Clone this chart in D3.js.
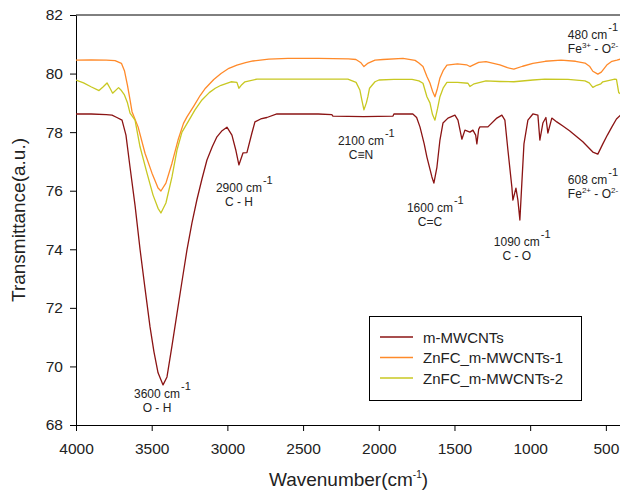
<!DOCTYPE html>
<html>
<head>
<meta charset="utf-8">
<script src="https://cdn.jsdelivr.net/npm/d3@7.9.0/dist/d3.min.js"></script>
<style>
  body { margin: 0; background: #fff; }
  svg { display: block; font-family: Arial, 'Liberation Sans', sans-serif; }
</style>
</head>
<body>
<svg id="chart"></svg>
<script>
// [wavenumber, transmittance]
const mMWCNTs = [
  [4000,78.62],[3900,78.62],[3800,78.6],[3762,78.58],[3730,78.5],[3696,78.41],[3670,77.9],[3643,76.8],
  [3610,75.5],[3577,74.0],[3545,72.7],[3511,71.35],[3485,70.5],[3458,69.78],[3425,69.37],[3399,69.64],
  [3366,70.7],[3333,71.8],[3300,72.9],[3267,73.98],[3234,74.9],[3201,75.7],[3168,76.4],[3135,77.05],
  [3100,77.5],[3069,77.84],[3035,78.05],[3003,78.17],[2970,77.9],[2945,77.4],[2924,76.88],[2897,77.29],
  [2871,77.3],[2838,77.97],[2818,78.35],[2780,78.45],[2739,78.5],[2673,78.62],[2400,78.62],[2310,78.6],
  [2303,78.55],[2100,78.53],[1906,78.55],[1900,78.62],[1775,78.62],[1750,78.5],[1728,78.18],[1700,77.6],
  [1682,77.15],[1649,76.47],[1636,76.26],[1616,76.8],[1596,77.73],[1576,78.31],[1543,78.48],[1497,78.58],
  [1477,78.41],[1451,77.76],[1431,78.07],[1398,78.0],[1378,78.07],[1360,77.9],[1352,77.6],[1340,78.1],
  [1332,78.18],[1279,78.18],[1220,78.48],[1187,78.58],[1167,78.41],[1147,77.39],[1121,76.13],[1114,75.68],
  [1094,76.09],[1081,75.68],[1068,75.0],[1055,76.26],[1041,77.6],[1015,78.41],[982,78.62],[949,78.58],
  [936,77.73],[916,78.31],[896,78.5],[883,77.97],[857,78.48],[824,78.35],[784,78.21],[740,78.05],
  [692,77.84],[652,77.67],[620,77.5],[586,77.32],[553,77.25],[520,77.6],[490,77.9],[460,78.18],
  [430,78.45],[400,78.6]
];

const znfc1 = [
  [4000,80.46],[3900,80.47],[3800,80.46],[3742,80.44],[3700,80.35],[3680,80.1],[3660,79.6],[3643,79.1],
  [3630,78.7],[3590,78.18],[3544,77.28],[3498,76.6],[3458,76.09],[3439,75.99],[3406,76.26],[3366,76.94],
  [3326,77.73],[3290,78.3],[3267,78.52],[3221,78.9],[3180,79.25],[3145,79.5],[3090,79.8],[3042,80.0],
  [2990,80.18],[2937,80.29],[2880,80.37],[2831,80.43],[2726,80.49],[2600,80.52],[2400,80.52],[2200,80.5],
  [2151,80.48],[2120,80.38],[2098,80.24],[2070,80.36],[2025,80.46],[1972,80.48],[1840,80.52],[1760,80.45],
  [1735,80.36],[1708,80.24],[1682,79.9],[1662,79.68],[1645,79.4],[1629,79.21],[1612,79.5],[1596,79.85],
  [1575,80.1],[1550,80.29],[1480,80.33],[1420,80.3],[1398,80.24],[1385,80.27],[1340,80.38],[1292,80.41],
  [1200,80.3],[1150,80.2],[1108,80.15],[1050,80.25],[982,80.35],[900,80.42],[796,80.46],[700,80.42],
  [638,80.36],[606,80.24],[586,80.08],[553,79.98],[530,80.05],[494,80.29],[460,80.42],[427,80.46],
  [400,80.5]
];

const znfc2 = [
  [4000,79.78],[3950,79.68],[3901,79.55],[3848,79.42],[3820,79.55],[3795,79.68],[3775,79.5],[3758,79.33],
  [3719,79.52],[3700,79.42],[3680,79.27],[3660,79.0],[3643,78.65],[3610,78.41],[3577,77.5],[3531,76.6],
  [3491,75.85],[3458,75.4],[3439,75.24],[3406,75.58],[3366,76.47],[3333,77.39],[3300,78.0],[3260,78.35],
  [3214,78.76],[3168,79.1],[3120,79.35],[3080,79.5],[3042,79.6],[2976,79.72],[2937,79.7],[2924,79.5],
  [2905,79.62],[2884,79.72],[2805,79.81],[2500,79.81],[2362,79.81],[2204,79.81],[2150,79.7],[2125,79.44],
  [2112,79.1],[2098,78.76],[2082,79.0],[2072,79.21],[2061,79.5],[2025,79.72],[1999,79.78],[1900,79.8],
  [1780,79.8],[1735,79.75],[1708,79.67],[1682,79.21],[1662,79.0],[1645,78.6],[1629,78.41],[1612,78.8],
  [1596,79.21],[1575,79.5],[1550,79.7],[1480,79.7],[1411,79.67],[1398,79.56],[1370,79.65],[1292,79.75],
  [1200,79.73],[1108,79.72],[982,79.78],[903,79.81],[750,79.8],[638,79.75],[610,79.68],[586,79.53],
  [560,79.6],[533,79.65],[520,79.72],[441,79.81],[430,79.8],[415,79.35],[400,79.3]
];

const seriesNames = ['m-MWCNTs', 'ZnFC_m-MWCNTs-1', 'ZnFC_m-MWCNTs-2'];
const seriesColors = ['#8b1414', '#ff8a2a', '#c8c822'];
const xTicks = [4000, 3500, 3000, 2500, 2000, 1500, 1000, 500];
const yTicks = [68, 70, 72, 74, 76, 78, 80, 82];

// peak labels, anchored in data space (wavenumber, transmittance)
const peakLabels = [
  { w: 3465, v: 68.92, base: '3600 cm', line2: [{ t: 'O - H' }], align: 'middle' },
  { w: 2924, v: 75.96, base: '2900 cm', line2: [{ t: 'C - H' }], align: 'middle' },
  { w: 2118, v: 77.56, base: '2100 cm', line2: [{ t: 'C\u2261N' }], align: 'middle' },
  { w: 1662, v: 75.27, base: '1600 cm', line2: [{ t: 'C=C' }], align: 'middle' },
  { w: 1088, v: 74.11, base: '1090 cm', line2: [{ t: 'C - O' }], align: 'middle' },
  { w: 751, v: 76.23, base: '608 cm', line2: [{ t: 'Fe' }, { t: '2+', sup: true }, { t: ' - O' }, { t: '2-', sup: true }], align: 'start' },
  { w: 751, v: 81.17, base: '480 cm', line2: [{ t: 'Fe' }, { t: '3+', sup: true }, { t: ' - O' }, { t: '2-', sup: true }], align: 'start' }
];

let series = [mMWCNTs, znfc1, znfc2];

let svg = d3.select('#chart').attr('width', 620).attr('height', 495);

let x = d3.scaleLinear().domain([4000, 400]).range([76, 621]);
let y = d3.scaleLinear().domain([68, 82]).range([425, 15]);

svg.append('clipPath').attr('id', 'plot')
  .append('rect').attr('x', 76).attr('y', 15).attr('width', 545).attr('height', 410);

// axes
let xAxis = svg.append('g')
  .attr('transform', 'translate(0,425)')
  .call(d3.axisBottom(x).tickValues(xTicks).tickFormat(d3.format('d'))
    .tickSize(6).tickPadding(12).tickSizeOuter(0));

let yAxis = svg.append('g')
  .attr('transform', 'translate(76,0)')
  .call(d3.axisLeft(y).tickValues(yTicks).tickSize(6).tickPadding(7).tickSizeOuter(0));

[xAxis, yAxis].forEach(g => {
  g.selectAll('path, line').attr('stroke', '#000');
  g.selectAll('text').attr('font-size', 15.5).attr('fill', '#222').attr('font-family', null);
});

// top frame line
svg.append('line')
  .attr('x1', 76).attr('x2', 621)
  .attr('y1', y(82)).attr('y2', y(82))
  .attr('stroke', '#000');

// spectra
let line = d3.line().x(d => x(d[0])).y(d => y(d[1]));

svg.append('g').attr('clip-path', 'url(#plot)')
  .selectAll('path')
  .data(series)
  .join('path')
  .attr('d', line)
  .attr('fill', 'none')
  .attr('stroke', (d, i) => seriesColors[i])
  .attr('stroke-width', 1.3)
  .attr('stroke-linejoin', 'round');

// peak annotations
let ann = svg.append('g').attr('fill', '#222');
peakLabels.forEach(a => {
  let px = x(a.w), py = y(a.v);
  let t = ann.append('text')
    .attr('x', px).attr('y', py)
    .attr('font-size', 12)
    .attr('text-anchor', a.align)
    .text(a.base);
  let bb = t.node().getBBox();
  ann.append('text')
    .attr('x', bb.x + bb.width + 1).attr('y', py - 8)
    .attr('font-size', 11)
    .text('-1');

  let cx = a.align === 'middle' ? px : bb.x;
  let t2 = ann.append('text')
    .attr('x', cx).attr('y', py + 14)
    .attr('font-size', 12)
    .attr('text-anchor', a.align);
  a.line2.forEach(s => {
    t2.append('tspan')
      .attr('font-size', s.sup ? 8 : 12)
      .attr('dy', s.sup ? -5 : (t2.selectAll('tspan').size() > 1 ? 5 : 0))
      .text(s.t);
  });
});

// axis titles
svg.append('text')
  .attr('transform', `translate(25,${y(75)}) rotate(-90)`)
  .attr('text-anchor', 'middle')
  .attr('font-size', 19)
  .attr('fill', '#222')
  .text('Transmittance(a.u.)');

let xt = svg.append('text')
  .attr('x', (76 + 621) / 2).attr('y', 486)
  .attr('text-anchor', 'middle')
  .attr('font-size', 19)
  .attr('fill', '#222');
xt.append('tspan').text('Wavenumber(cm');
xt.append('tspan').attr('font-size', 10).attr('dy', -8).text('-1');
xt.append('tspan').attr('dy', 8).text(')');

// legend
let lg = svg.append('g');
lg.append('rect')
  .attr('x', 369.5).attr('y', 316.5).attr('width', 212).attr('height', 84)
  .attr('fill', '#fff').attr('stroke', '#000');

seriesNames.forEach((name, i) => {
  let ly = 337 + i * 20.5;
  lg.append('line')
    .attr('x1', 380).attr('x2', 413)
    .attr('y1', ly).attr('y2', ly)
    .attr('stroke', seriesColors[i]).attr('stroke-width', 1.3);
  lg.append('text')
    .attr('x', 423).attr('y', ly + 5.5)
    .attr('font-size', 15)
    .attr('fill', '#222')
    .text(name);
});
</script>
</body>
</html>
